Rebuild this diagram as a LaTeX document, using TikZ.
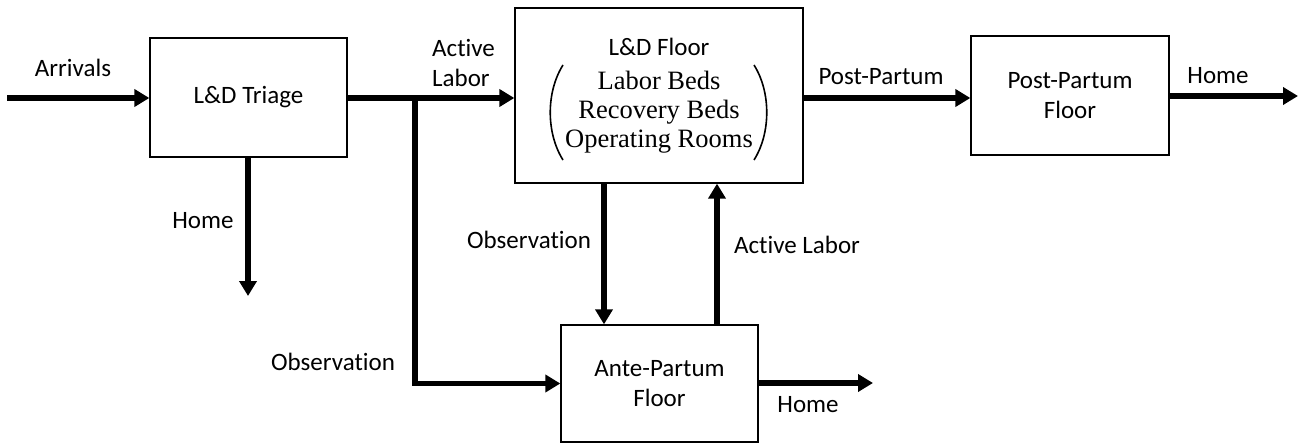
\documentclass[tikz,border=0pt]{standalone}
\usepackage{fontspec}
\setmainfont{Carlito}[Ligatures=NoCommon]
\newfontfamily\bedfont{Liberation Serif}
\usetikzlibrary{positioning,calc,arrows.meta}
\tikzset{
  figfont/.style={font=\fontsize{25}{30}\selectfont},
  figbox/.style={draw, line width=1.3pt, align=center, inner sep=0pt},
  figlabel/.style={align=center, inner sep=0pt},
  figline/.style={line width=5.8pt},
  figarrow/.style={figline, -{Triangle[length=15pt,width=17pt]}},
  figparen/.style={line width=1.6pt},
}

\begin{document}
\begin{tikzpicture}[x=1pt, y=-1pt, figfont]
	\useasboundingbox (0,0) rectangle (1300,444);

	% Units
	\node[figbox, minimum width=197, minimum height=119] (triage) at (248.5,97.5) {L\&D Triage};
	\node[figbox, minimum width=288, minimum height=175] (floor) at (659,95.5) {};
	\node[figlabel] (floortitle) at (659,47) {L\&D Floor};
	\node[figlabel, font=\bedfont\fontsize{26.5}{29}\selectfont] (floorbeds) at (659,112)
		{Labor Beds\\ Recovery Beds\\ Operating Rooms};
	\draw[figparen] (563,65) .. controls (546,92) and (546,133) .. (563,160);
	\draw[figparen] (754,65) .. controls (771,92) and (771,133) .. (754,160);
	\node[figbox, minimum width=198, minimum height=119] (post) at (1070,95.5) {Post-Partum\\ Floor};
	\node[figbox, minimum width=197, minimum height=117] (ante) at (659.5,383.5) {Ante-Partum\\ Floor};

	% Free ends
	\coordinate (arrivals) at (7,98);
	\coordinate (triagehome) at (248,296);
	\coordinate (split) at (415,98);
	\coordinate (antehome) at (873,383);
	\coordinate (posthome) at (1298,96);

	% Flows from triage
	\draw[figarrow] (arrivals) -- (triage.west |- arrivals);
	\draw[figarrow] (triage.east |- split) -- (floor.west |- split);
	\draw[figline] (split) -- ++(0,2);
	\draw[figarrow] (split) |- (ante.west);
	\draw[figarrow] (triage.south -| triagehome) -- (triagehome);

	% Flows between floors
	\draw[figarrow] ($(floor.south)+(-55,0)$) -- ($(ante.north)+(-55.5,0)$);
	\draw[figarrow] ($(ante.north)+(57.5,0)$) -- ($(floor.south)+(58,0)$);
	\draw[figarrow] (floor.east |- split) -- (post.west |- split);
	\draw[figarrow] (post.east |- posthome) -- (posthome);
	\draw[figarrow] (ante.east |- antehome) -- (antehome);

	% Labels
	\node[figlabel] (larrivals) at (73,68) {Arrivals};
	\node[figlabel] (ltriagehome) at (203,221) {Home};
	\node[figlabel, align=left, anchor=west] (lactive) at (432,63) {Active\\ Labor};
	\node[figlabel] (lobstriage) at (333,362) {Observation};
	\node[figlabel] (lobsfloor) at (529,240) {Observation};
	\node[figlabel] (lactiveante) at (797,245) {Active Labor};
	\node[figlabel] (lpost) at (881,77) {Post-Partum};
	\node[figlabel] (lposthome) at (1218,76) {Home};
	\node[figlabel] (lantehome) at (808,405) {Home};
\end{tikzpicture}
\end{document}
